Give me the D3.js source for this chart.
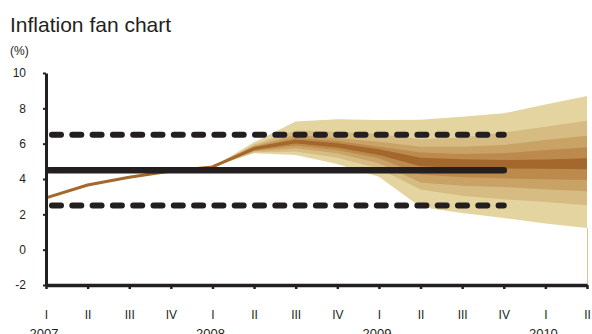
<!DOCTYPE html>
<html>
<head>
<meta charset="utf-8">
<script src="https://cdn.jsdelivr.net/npm/d3@7"></script>
<style>
  html, body { margin: 0; padding: 0; background: #ffffff; }
  svg { display: block; }
  text { font-family: "Liberation Sans", Arial, Helvetica, sans-serif; fill: #231f20; }
</style>
</head>
<body>
<svg id="chart" width="592" height="334"></svg>
<script>
// ---------------- data ----------------
const title = "Inflation fan chart";
const unitLabel = "(%)";
const quarters = ["I","II","III","IV","I","II","III","IV","I","II","III","IV","I","II"];
const years = ["2007","2008","2009","2010"];
const yTicks = [-2, 0, 2, 4, 6, 8, 10];

// outturn + central projection (%)
const inflation = [2.93, 3.66, 4.10, 4.45, 4.68, 5.72, 6.12, 5.90, 5.53, 4.95, 4.87, 4.85, 4.88, 4.92];

// fan bands start at this quarter index
const fanStartIndex = 4;
// band boundaries from top (upper outer) to bottom (lower outer)
const fanUpper4 = [4.68, 6.08, 7.25, 7.38, 7.34, 7.35, 7.52, 7.72, 8.22, 8.70];
const fanUpper3 = [4.68, 5.95, 6.74, 6.68, 6.55, 6.25, 6.35, 6.62, 6.96, 7.30];
const fanUpper2 = [4.68, 5.88, 6.49, 6.30, 6.11, 5.83, 5.82, 5.93, 6.21, 6.45];
const fanUpper1 = [4.68, 5.82, 6.32, 6.15, 5.83, 5.50, 5.42, 5.46, 5.64, 5.79];
const fanCentralTop = [4.68, 5.78, 6.22, 6.02, 5.68, 5.20, 5.12, 5.08, 5.10, 5.17];
const fanCentralBottom = [4.68, 5.66, 6.02, 5.79, 5.36, 4.72, 4.62, 4.60, 4.58, 4.55];
const fanLower1 = [4.68, 5.62, 5.90, 5.64, 5.17, 4.25, 4.10, 4.04, 3.98, 3.94];
const fanLower2 = [4.68, 5.57, 5.74, 5.46, 4.89, 3.80, 3.62, 3.55, 3.42, 3.30];
const fanLower3 = [4.68, 5.52, 5.55, 5.20, 4.60, 3.40, 3.05, 2.85, 2.70, 2.51];
const fanLower4 = [4.68, 5.46, 5.36, 4.85, 4.13, 2.42, 2.08, 1.79, 1.48, 1.23];

// inflation target and tolerance band
const targetCentral = 4.5;
const targetUpper = 6.5;
const targetLower = 2.5;
const targetFromIndex = 0;
const targetToIndex = 11;

// ---------------- styles ----------------
const fanColors = ["#e3d4a0", "#d6bb82", "#c9a265", "#bc8a4d", "#a4672c"];
const lineColor = "#a4672c";
const ink = "#231f20";

// ---------------- layout ----------------
const svg = d3.select("#chart");
const x = d3.scaleLinear().domain([0, quarters.length - 1]).range([46, 587]);
const y = d3.scaleLinear().domain([-2, 10]).range([285, 73]);

svg.append("text").attr("x", 10).attr("y", 31.5)
  .style("font-size", "21px").text(title);
svg.append("text").attr("x", 10).attr("y", 55)
  .style("font-size", "12px").text(unitLabel);

// ---------------- fan ----------------
const fanIdx = fanUpper4.map((_, i) => fanStartIndex + i);
const band = (top, bottom) => d3.area()
  .x((d, i) => x(fanIdx[i]))
  .y0((d, i) => y(bottom[i]))
  .y1((d, i) => y(top[i]))(fanIdx);

const nested = [
  [fanUpper4, fanLower4],
  [fanUpper3, fanLower3],
  [fanUpper2, fanLower2],
  [fanUpper1, fanLower1],
  [fanCentralTop, fanCentralBottom]
];
const fanG = svg.append("g");
nested.forEach(([t, b], k) => {
  fanG.append("path").attr("d", band(t, b)).attr("fill", fanColors[k]);
});

// thin closing line at end of fan
const lastIdx = fanIdx[fanIdx.length - 1];
svg.append("line")
  .attr("x1", x(lastIdx) + 0.5).attr("x2", x(lastIdx) + 0.5)
  .attr("y1", y(fanLower4[fanLower4.length - 1])).attr("y2", y(-2))
  .attr("stroke", "#d8c79a").attr("stroke-width", 1);

// ---------------- inflation line ----------------
svg.append("path")
  .attr("d", d3.line().x((d, i) => x(i)).y(d => y(d))(inflation))
  .attr("fill", "none").attr("stroke", lineColor)
  .attr("stroke-width", 3).attr("stroke-linejoin", "round");

// ---------------- target lines ----------------
svg.append("line")
  .attr("x1", x(targetFromIndex) + 3).attr("x2", x(targetToIndex))
  .attr("y1", y(targetCentral)).attr("y2", y(targetCentral))
  .attr("stroke", ink).attr("stroke-width", 6.5).attr("stroke-linecap", "round");

[targetUpper, targetLower].forEach(v => {
  svg.append("line")
    .attr("x1", x(targetFromIndex) + 6).attr("x2", x(targetToIndex))
    .attr("y1", y(v)).attr("y2", y(v))
    .attr("stroke", ink).attr("stroke-width", 6)
    .attr("stroke-linecap", "round")
    .attr("stroke-dasharray", "9,11.3");
});

// ---------------- axes ----------------
const yAxis = svg.append("g")
  .attr("transform", `translate(${x(0)},0)`)
  .call(d3.axisLeft(y).tickValues(yTicks).tickFormat(d => String(d))
    .tickSize(3).tickSizeOuter(0).tickPadding(17));
yAxis.select(".domain").attr("stroke", ink).attr("stroke-width", 3);
yAxis.selectAll(".tick line").attr("stroke", ink).attr("stroke-width", 2);
yAxis.selectAll(".tick text").style("font-size", "12px")
  .style("font-family", '"Liberation Sans", Arial, sans-serif').attr("fill", ink);

const xAxis = svg.append("g")
  .attr("transform", `translate(0,${y(-2)})`)
  .call(d3.axisBottom(x).tickValues(d3.range(quarters.length))
    .tickFormat(i => quarters[i]).tickSize(4).tickSizeOuter(0).tickPadding(21));
xAxis.select(".domain").attr("stroke", ink).attr("stroke-width", 3.5);
xAxis.selectAll(".tick line").attr("stroke", ink).attr("stroke-width", 2.5);
xAxis.selectAll(".tick text").style("font-size", "12px")
  .style("font-family", '"Liberation Sans", Arial, sans-serif').attr("fill", ink);

// year labels under each first quarter
const firstQuarters = quarters.map((q, i) => q === "I" ? i : -1).filter(i => i >= 0);
svg.append("g").selectAll("text")
  .data(firstQuarters)
  .join("text")
  .attr("x", (d) => x(d) - 2)
  .attr("y", 337.5)
  .attr("text-anchor", "middle")
  .style("font-size", "13px")
  .text((d, i) => years[i]);
</script>
</body>
</html>
